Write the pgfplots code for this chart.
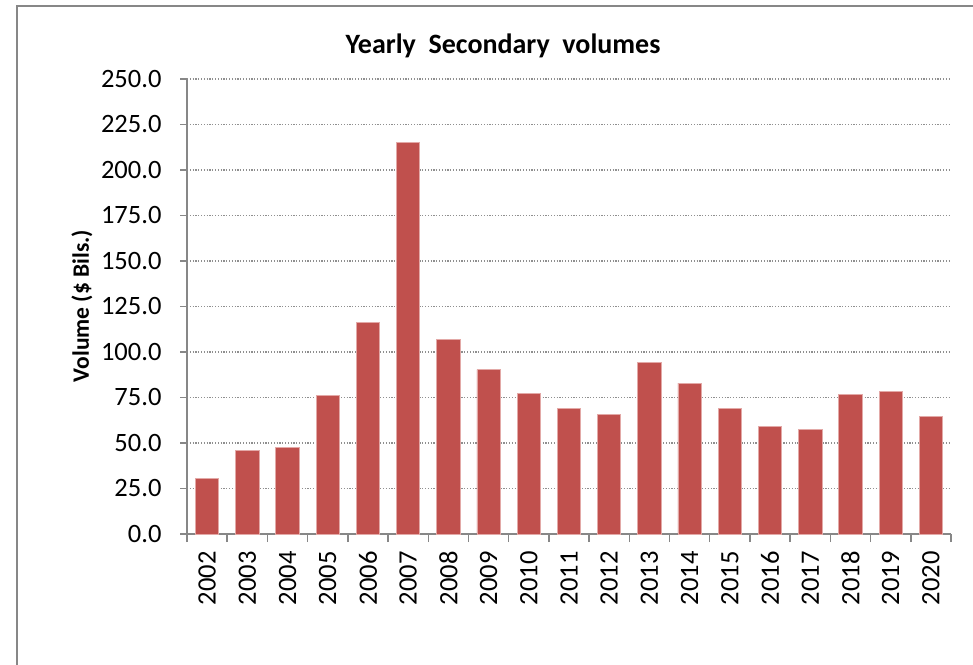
\documentclass[border=0pt]{standalone}
\usepackage{pgfplots}
\pgfplotsset{compat=1.18}
\usepackage{fontspec}
\setmainfont{Carlito}
\definecolor{barred}{HTML}{C0504D}
\definecolor{baredge}{HTML}{E3A9A7}
\definecolor{axgray}{HTML}{878787}
\definecolor{gridgray}{HTML}{8F8F8F}

\begin{document}
\begin{tikzpicture}[x=1pt,y=1pt]
\useasboundingbox (0,0) rectangle (973,664);
% chart area frame (only left and top edges are visible)
\draw[axgray, line width=2] (17,-20) -- (17,658) -- (1000,658);

\begin{axis}[
    at={(187pt,130pt)}, anchor=south west,
    width=764pt, height=455pt, scale only axis,
    xmin=-0.5, xmax=18.5,
    ymin=0, ymax=250,
    ytick={0,25,...,250},
    xtick={0,...,18},
    xticklabels={2002,2003,2004,2005,2006,2007,2008,2009,2010,2011,2012,2013,2014,2015,2016,2017,2018,2019,2020},
    minor xtick={-0.5,0.5,...,18.5},
    axis x line*=bottom, axis y line*=left,
    axis line style={-, axgray, line width=1.5pt},
    tick align=outside,
    major tick length=7pt, minor tick length=8pt,
    major x tick style={draw=none},
    minor x tick style={axgray, line width=1.5pt},
    major y tick style={axgray, line width=1.5pt},
    ymajorgrids,
    major grid style={gridgray, line width=1.3pt, dash pattern=on 1.2pt off 1.6pt},
    ticklabel style={font=\fontsize{26.5}{28}\selectfont},
    yticklabel style={xshift=-15pt, /pgf/number format/.cd, fixed, fixed zerofill, precision=1, assume math mode=true},
    xticklabel style={yshift=-7pt, rotate=90, anchor=east},
    clip=false,
]
\addplot[ybar, bar width=0.58, fill=barred, draw=baredge, line width=0.8pt] coordinates {
    (0,30.5) (1,45.9) (2,47.7) (3,76.0) (4,116.3) (5,215.0) (6,107.0)
    (7,90.3) (8,77.4) (9,69.0) (10,65.7) (11,94.1) (12,82.9) (13,69.0)
    (14,59.3) (15,57.5) (16,76.9) (17,78.4) (18,64.8)
};
\end{axis}

\node[font=\bfseries\fontsize{28}{30}\selectfont] at (503,618) {Yearly\ \ Secondary\ \ volumes};
\node[font=\bfseries\fontsize{23.5}{25}\selectfont, rotate=90] at (82,358) {Volume (\$ Bils.)};
\end{tikzpicture}
\end{document}
